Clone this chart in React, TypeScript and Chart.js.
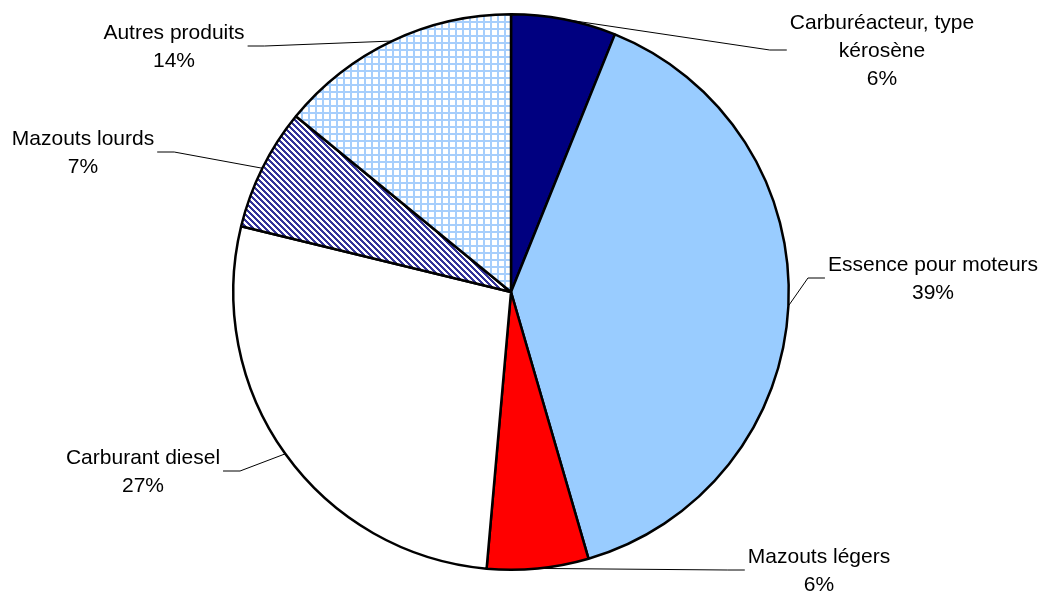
import React, { useEffect, useRef } from "react";
import { Chart, registerables } from "chart.js";

Chart.register(...registerables);

// ---- Data ----
const categories = [
  "Carburéacteur, type kérosène",
  "Essence pour moteurs",
  "Mazouts légers",
  "Carburant diesel",
  "Mazouts lourds",
  "Autres produits",
];
const labelLines = [
  ["Carburéacteur, type", "kérosène"],
  ["Essence pour moteurs"],
  ["Mazouts légers"],
  ["Carburant diesel"],
  ["Mazouts lourds"],
  ["Autres produits"],
];
const shares = [6.1, 39.4, 5.9, 27.4, 7.1, 14.1];

// ---- Layout of the external labels (text block centres) ----
const labelLayout = [
  { cx: 882, cy: 50 },
  { cx: 933, cy: 278 },
  { cx: 819, cy: 570 },
  { cx: 143, cy: 471 },
  { cx: 83, cy: 152 },
  { cx: 174, cy: 46 },
];

const FONT = '21px "Liberation Sans", Arial, Helvetica, sans-serif';
const LINE_H = 28;

function makeGridPattern(): CanvasPattern | string {
  const c = document.createElement("canvas");
  c.width = 7;
  c.height = 7;
  const g = c.getContext("2d");
  if (!g) return "#ffffff";
  g.fillStyle = "#ffffff";
  g.fillRect(0, 0, 7, 7);
  g.fillStyle = "#a6cefc";
  g.fillRect(0, 0, 7, 2);
  g.fillRect(0, 0, 2, 7);
  return g.createPattern(c, "repeat") || "#ffffff";
}

function makeStripePattern(): CanvasPattern | string {
  const c = document.createElement("canvas");
  c.width = 6;
  c.height = 6;
  const g = c.getContext("2d");
  if (!g) return "#333399";
  g.fillStyle = "#ffffff";
  g.fillRect(0, 0, 6, 6);
  g.fillStyle = "#333399";
  for (let y = 0; y < 6; y++) {
    for (let k = 0; k < 3; k++) {
      g.fillRect((y + k) % 6, y, 1, 1);
    }
  }
  return g.createPattern(c, "repeat") || "#333399";
}

const labelPlugin = {
  id: "outerLabels",
  afterDatasetsDraw(chart: any) {
    const meta = chart.getDatasetMeta(0);
    const ctx = chart.ctx as CanvasRenderingContext2D;
    ctx.save();
    ctx.font = FONT;
    ctx.fillStyle = "#000";
    ctx.strokeStyle = "#000";
    ctx.lineWidth = 1;
    ctx.textAlign = "center";
    ctx.textBaseline = "middle";
    meta.data.forEach((arc: any, i: number) => {
      const p = arc.getProps(["x", "y", "startAngle", "endAngle", "outerRadius"], true);
      const mid = (p.startAngle + p.endAngle) / 2;
      const ax = p.x + Math.cos(mid) * p.outerRadius;
      const ay = p.y + Math.sin(mid) * p.outerRadius;
      const lines = [...labelLines[i], Math.round(shares[i]) + "%"];
      const lp = labelLayout[i];
      const w = Math.max(...lines.map((l) => ctx.measureText(l).width));
      const right = lp.cx > p.x;
      const endX = right ? lp.cx - w / 2 - 3 : lp.cx + w / 2 + 3;
      const elbowX = right ? endX - 17 : endX + 17;
      ctx.beginPath();
      ctx.moveTo(ax, ay);
      ctx.lineTo(elbowX, lp.cy);
      ctx.lineTo(endX, lp.cy);
      ctx.stroke();
      const n = lines.length;
      lines.forEach((t, j) => {
        ctx.fillText(t, lp.cx, lp.cy + (j - (n - 1) / 2) * LINE_H + 1);
      });
    });
    ctx.restore();
  },
};

export default function App() {
  const ref = useRef<HTMLCanvasElement | null>(null);

  useEffect(() => {
    if (!ref.current) return;
    const colors: (string | CanvasPattern)[] = [
      "#000080",
      "#99ccff",
      "#ff0000",
      "#ffffff",
      makeStripePattern(),
      makeGridPattern(),
    ];
    const chart = new Chart(ref.current, {
      type: "pie",
      data: {
        labels: categories,
        datasets: [
          {
            data: shares,
            backgroundColor: colors as any,
            borderColor: "#000000",
            borderWidth: 2.5,
            hoverOffset: 0,
            offset: 0,
          } as any,
        ],
      },
      options: {
        responsive: false,
        animation: false,
        events: [],
        layout: { padding: { left: 232, right: 255, top: 13, bottom: 26 } },
        plugins: {
          legend: { display: false },
          tooltip: { enabled: false },
        },
      },
      plugins: [labelPlugin],
    });
    return () => chart.destroy();
  }, []);

  return (
    <div style={{ position: "fixed", left: 0, top: 0, width: 1045, height: 597, background: "#fff" }}>
      <canvas ref={ref} width={1045} height={597} style={{ display: "block" }} />
    </div>
  );
}
